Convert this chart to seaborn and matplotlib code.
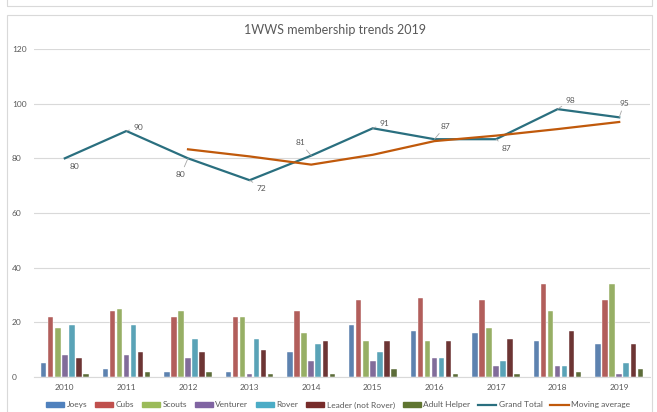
import numpy as np
import pandas as pd
import seaborn as sns
import matplotlib.pyplot as plt
from matplotlib.patches import Rectangle
from matplotlib.lines import Line2D

anos = ["2010", "2011", "2012", "2013", "2014", "2015", "2016", "2017", "2018", "2019"]
categorias = ["Joeys", "Cubs", "Scouts", "Venturer", "Rover", "Leader (not Rover)", "Adult Helper"]
joeys = [5, 3, 2, 2, 9, 19, 17, 16, 13, 12]
cubs = [22, 24, 22, 22, 24, 28, 29, 28, 34, 28]
scouts = [18, 25, 24, 22, 16, 13, 13, 18, 24, 34]
venturer = [8, 8, 7, 1, 6, 6, 7, 4, 4, 1]
rover = [19, 19, 14, 14, 12, 9, 7, 6, 4, 5]
leader = [7, 9, 9, 10, 13, 13, 13, 14, 17, 12]
adult_helper = [1, 2, 2, 1, 1, 3, 1, 1, 2, 3]
grand_total = [80, 90, 80, 72, 81, 91, 87, 87, 98, 95]
media_movel = [83.3, 80.7, 77.7, 81.3, 86.3, 88.3, 90.7, 93.3]  # 2012-2019

cores = ["#4F81BD", "#C0504D", "#9BBB59", "#8064A2", "#4BACC6", "#772C2A", "#5F7530"]
cor_total = "#2A6F7F"
cor_media = "#C0590B"
cinza = "#595959"

series = [joeys, cubs, scouts, venturer, rover, leader, adult_helper]
df = pd.DataFrame({
    "Ano": anos * len(categorias),
    "Categoria": np.repeat(categorias, len(anos)),
    "Valor": np.concatenate(series),
})

plt.rcParams['font.family'] = ['Lato', 'DejaVu Sans']
fig = plt.figure(figsize=(6.57, 4.12), dpi=100)
ax = fig.add_axes([34/657, 1-377/412, (650-34)/657, (377-49)/412])

# moldura do gráfico
fig.patches.append(Rectangle((7/657, -0.05), 645/657, 1-15/412+0.05, transform=fig.transFigure,
                             fill=False, edgecolor="#D9D9D9", lw=0.8))
fig.patches.append(Rectangle((7/657, 1-6/412), 645/657, 0.1, transform=fig.transFigure,
                             fill=False, edgecolor="#D9D9D9", lw=0.8))

sns.barplot(data=df, x="Ano", y="Valor", hue="Categoria", palette=cores, width=0.8, gap=0.22,
            ax=ax, legend=False, edgecolor="white", linewidth=0.3)

x = np.arange(len(anos))
sns.lineplot(x=x, y=grand_total, color=cor_total, lw=1.6, ax=ax)
sns.lineplot(x=x[2:], y=media_movel, color=cor_media, lw=1.6, ax=ax)

# rótulos do Grand Total (deslocamentos em pixels)
offs = [(10, -8), (12, 4), (-7, -16), (12, -8), (-11, 13), (12, 5), (11, 13), (11, -9), (13, 9), (5, 14)]
leader_line = [False, True, True, True, True, True, True, True, True, True]
for i, (v, o, ld) in enumerate(zip(grand_total, offs, leader_line)):
    ax.annotate(str(v), (i, v), xytext=o, textcoords="offset pixels", fontsize=6, color=cinza,
                ha="center", va="center",
                arrowprops=dict(arrowstyle="-", color="#A6A6A6", lw=0.6, shrinkA=1, shrinkB=0) if ld else None)

ax.set_ylim(0, 120)
ax.set_yticks(range(0, 121, 20))
ax.set_xlim(-0.5, len(anos) - 0.5)
ax.set_xlabel("")
ax.set_ylabel("")
ax.grid(axis="y", color="#D9D9D9", lw=0.8)
ax.set_axisbelow(True)
for s in ["top", "right", "left"]:
    ax.spines[s].set_visible(False)
ax.spines["bottom"].set_color("#D9D9D9")
ax.tick_params(axis="both", length=0, labelsize=6, labelcolor=cinza)
ax.tick_params(axis="y", pad=16)
ax.tick_params(axis="x", pad=5)
for lbl in ax.get_yticklabels():
    lbl.set_horizontalalignment("left")

fig.text(335/657, 1-30/412, "1WWS membership trends 2019", ha="center", va="center",
         fontsize=9, color=cinza)

handles = [Rectangle((0, 0), 1, 1, color=c) for c in cores]
handles += [Line2D([], [], color=cor_total, lw=1.6), Line2D([], [], color=cor_media, lw=1.6)]
nomes = categorias + ["Grand Total", "Moving average"]
fig.legend(handles, nomes, loc="center", bbox_to_anchor=(338/657, 1-405/412), ncol=9, frameon=False,
           fontsize=6, labelcolor=cinza, handlelength=2.2, handleheight=0.6, columnspacing=0.9,
           handletextpad=0.3)

fig.savefig("out.png", dpi=100)
